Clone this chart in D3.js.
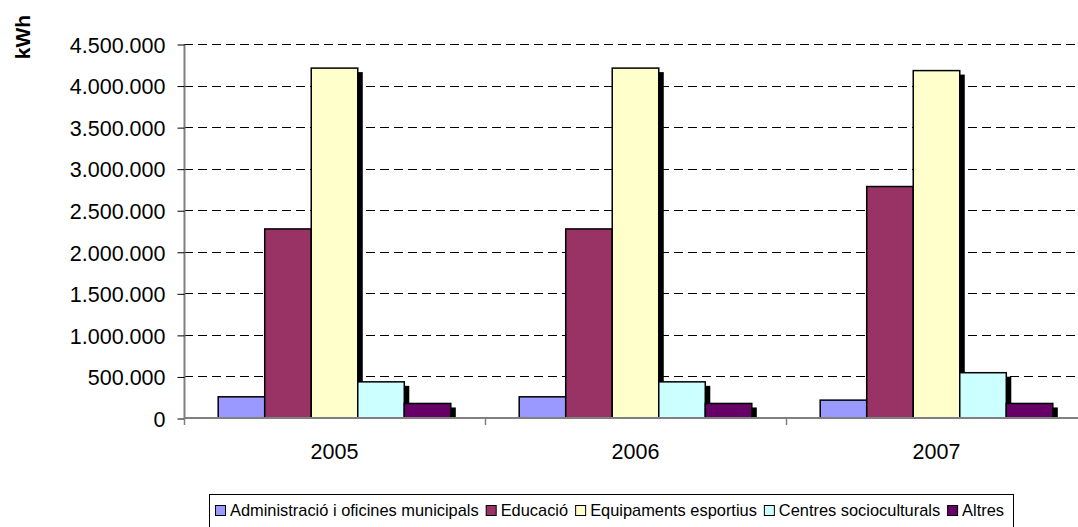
<!DOCTYPE html>
<html><head><meta charset="utf-8">
<script src="https://cdn.jsdelivr.net/npm/d3@7"></script>
<style>
html,body{margin:0;padding:0;background:#fff;}
svg{display:block;font-family:"Liberation Sans",Arial,sans-serif;}
</style></head>
<body>
<svg id="chart" width="1078" height="527"></svg>
<script>
const years = ["2005", "2006", "2007"];
const seriesNames = ["Administració i oficines municipals", "Educació", "Equipaments esportius", "Centres socioculturals", "Altres"];
const seriesColors = ["#9999FF", "#993366", "#FFFFCC", "#CCFFFF", "#660066"];
const adminValues = [255000, 255000, 215000];
const educacioValues = [2275000, 2275000, 2785000];
const equipamentsValues = [4210000, 4210000, 4180000];
const centresValues = [435000, 435000, 545000];
const altresValues = [175000, 175000, 175000];
const yTicks = [0, 500000, 1000000, 1500000, 2000000, 2500000, 3000000, 3500000, 4000000, 4500000];
const yTickLabels = ["0", "500.000", "1.000.000", "1.500.000", "2.000.000", "2.500.000", "3.000.000", "3.500.000", "4.000.000", "4.500.000"];
const yAxisTitle = "kWh";

const seriesValues = [adminValues, educacioValues, equipamentsValues, centresValues, altresValues];

const svg = d3.select("#chart");
const mLeft = 184, mTop = 44, mBottom = 418, bandW = 301;
const mRight = mLeft + bandW * years.length;

const x0 = d3.scaleBand().domain(years).range([mLeft, mRight]).paddingInner(0).paddingOuter(0);
const x1 = d3.scaleBand().domain(d3.range(seriesNames.length)).range([0, x0.bandwidth()]).paddingInner(0).paddingOuter(0.735);
const y = d3.scaleLinear().domain([0, 4500000]).range([mBottom, mTop]);

// gridlines
svg.append("g").selectAll("line").data(yTicks.filter(d => d > 0)).join("line")
  .attr("x1", mLeft).attr("x2", 1078)
  .attr("y1", d => Math.round(y(d)) + 0.5).attr("y2", d => Math.round(y(d)) + 0.5)
  .attr("stroke", "#000").attr("stroke-width", 1).attr("stroke-dasharray", "9,5");

// y axis
const yAxis = d3.axisLeft(y).tickValues(yTicks).tickFormat((d, i) => yTickLabels[i]).tickSize(7).tickPadding(12);
const gy = svg.append("g").attr("transform", `translate(${mLeft + 0.5},0.5)`).call(yAxis);
gy.select(".domain").attr("stroke", "#808080").attr("stroke-width", 2).attr("d", `M0,${mTop}V${mBottom}`);
gy.selectAll(".tick line").attr("stroke", "#000");
gy.selectAll(".tick text").attr("font-size", 21.5).attr("fill", "#000").attr("font-family", '"Liberation Sans",Arial,sans-serif').attr("dy", "0.36em");

// bars with shadows
const groups = svg.append("g").selectAll("g").data(years).join("g")
  .attr("transform", d => `translate(${x0(d)},0)`);
groups.each(function(yr, yi) {
  const g = d3.select(this);
  seriesNames.forEach((s, si) => {
    const v = seriesValues[si][yi];
    const bx = x1(si), bw = x1.bandwidth(), by = y(v);
    g.append("rect").attr("x", bx + 5).attr("y", by + 4).attr("width", bw).attr("height", Math.max(0, mBottom - by - 4)).attr("fill", "#000");
    g.append("rect").attr("x", bx).attr("y", by).attr("width", bw).attr("height", mBottom - by)
      .attr("fill", seriesColors[si]).attr("stroke", "#000").attr("stroke-width", 1.5);
  });
});

// x axis
const gx = svg.append("g").attr("transform", `translate(0,${mBottom})`);
gx.append("line").attr("x1", mLeft).attr("x2", 1078).attr("y1", 0).attr("y2", 0).attr("stroke", "#808080").attr("stroke-width", 2);
gx.selectAll("line.tk").data(d3.range(years.length + 1)).join("line").attr("class", "tk")
  .attr("x1", i => mLeft + i * x0.step() + 0.5).attr("x2", i => mLeft + i * x0.step() + 0.5)
  .attr("y1", 0).attr("y2", 7).attr("stroke", "#808080").attr("stroke-width", 1.5);
gx.selectAll("text").data(years).join("text")
  .attr("x", d => x0(d) + x0.bandwidth() / 2).attr("y", 41)
  .attr("text-anchor", "middle").attr("font-size", 21.5).attr("fill", "#000").text(d => d);

// y title
svg.append("text").attr("transform", "translate(30,37) rotate(-90)")
  .attr("text-anchor", "middle").attr("font-size", 21).attr("font-weight", "bold").text(yAxisTitle);

// legend
const lg = svg.append("g");
const legBox = lg.append("rect").attr("fill", "#fff").attr("stroke", "#000").attr("stroke-width", 1);
const fs = 16.4;
let cx = 0;
seriesNames.forEach((s, i) => {
  const it = lg.append("g");
  it.append("rect").attr("x", cx + 0.5).attr("y", -10.5).attr("width", 10).attr("height", 10)
    .attr("fill", seriesColors[i]).attr("stroke", "#000").attr("stroke-width", 1);
  const t = it.append("text").attr("x", cx + 15).attr("y", 0).attr("font-size", fs).attr("fill", "#000").text(s);
  cx += 15 + t.node().getComputedTextLength() + 7;
});
const legW = cx - 7;
const legRight = 1004;
const legLeft = Math.round(legRight - legW);
lg.attr("transform", `translate(${legLeft},516)`);
legBox.attr("x", -5.5).attr("y", -21.5).attr("width", Math.round(legW) + 15).attr("height", 34);
</script>
</body></html>
